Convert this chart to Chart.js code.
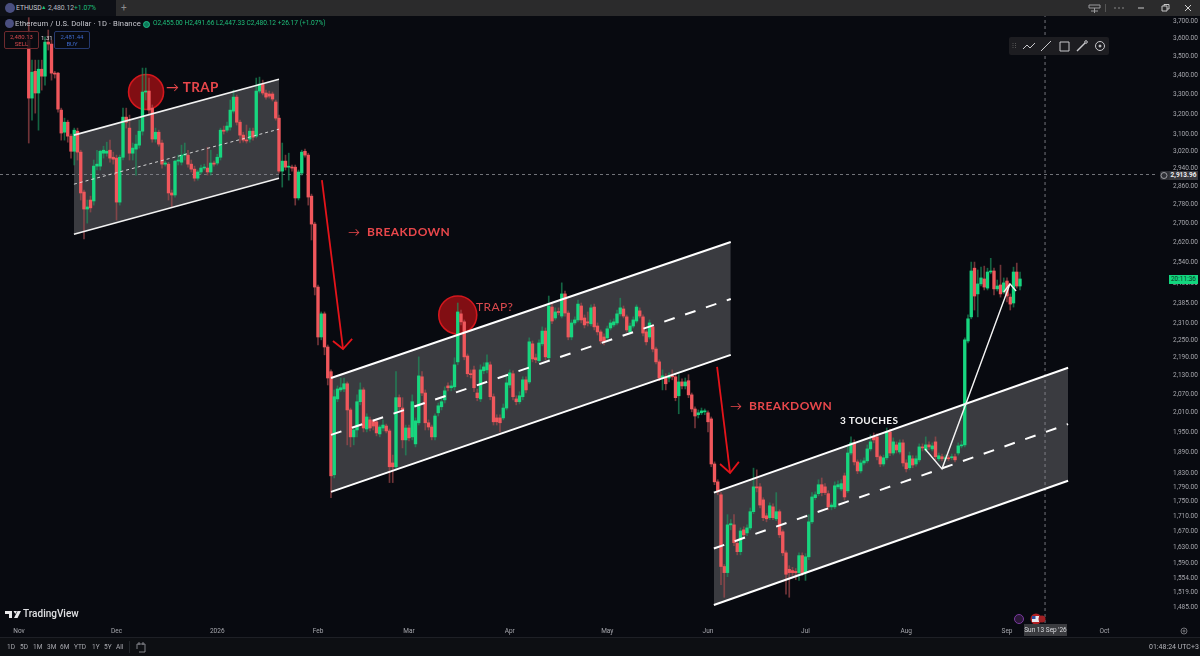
<!DOCTYPE html>
<html><head><meta charset="utf-8">
<script src="https://cdn.jsdelivr.net/npm/chart.js@4"></script>
<style>
html,body{margin:0;padding:0;background:#080a10;width:1200px;height:656px;overflow:hidden;font-family:Roboto,"Open Sans",sans-serif}
#wrap{position:relative;width:1200px;height:656px}
canvas{position:absolute;left:0;top:0}
.o{position:absolute;white-space:nowrap;pointer-events:none;line-height:1}
.note{font-family:Lato,"Open Sans",sans-serif;font-weight:700;letter-spacing:.4px}
svg{position:absolute;overflow:visible}
</style></head><body><div id="wrap"><canvas id="c" width="1200" height="656"></canvas>

<div class="o" style="left:0;top:0;width:1200px;height:16px;background:#2b2b2c"></div>
<div class="o" style="left:0;top:0;width:116px;height:16px;background:#0e1016"></div>
<div class="o" style="left:5px;top:3px;width:10px;height:10px;border-radius:50%;background:#4a4f80"></div>
<div class="o" style="left:16px;top:4.5px;font-size:6.8px;color:#c9cad0">ETHUSD</div>
<div class="o" style="left:41px;top:5px;font-size:5.5px;color:#1fbf7a">▲</div>
<div class="o" style="left:48px;top:4.5px;font-size:6.8px;color:#b9bac0">2,480.12</div>
<div class="o" style="left:74px;top:4.5px;font-size:6.8px;color:#1fbf7a">+1.07%</div>
<div class="o" style="left:121px;top:3px;font-size:10px;color:#8c8c8e">+</div>

<div class="o" style="left:5px;top:19px;width:9px;height:9px;border-radius:50%;background:#4a4f80"></div>
<div class="o" style="left:15px;top:19.5px;font-size:7.6px;color:#c8c9d0;letter-spacing:.1px">Ethereum / U.S. Dollar · 1D · Binance</div>
<div class="o" style="left:143px;top:21px;width:5px;height:5px;border-radius:50%;background:#0d7a5a;border:1px solid #1fbf8a"></div>
<div class="o" style="left:153px;top:20px;font-size:6.6px;color:#1fbf7a">O2,455.00 H2,491.66 L2,447.33 C2,480.12 +26.17 (+1.07%)</div>

<div class="o" style="left:4px;top:31px;width:33px;height:15px;border:1px solid #6d2a2e;border-radius:2px;background:rgba(8,10,16,.85);color:#d64a4e;font-size:6px;text-align:center;line-height:7px;padding-top:1px">2,480.13<br>SELL</div>
<div class="o" style="left:54px;top:31px;width:34px;height:15px;border:1px solid #25396e;border-radius:2px;background:rgba(8,10,16,.85);color:#3d68c8;font-size:6px;text-align:center;line-height:7px;padding-top:1px">2,481.44<br>BUY</div>
<div class="o" style="left:41px;top:35px;font-size:6px;color:#d8d9dd">1.31</div>

<!-- window controls -->
<svg style="left:0;top:0" width="1200" height="20" fill="none" stroke="#9a9a9c" stroke-width="1">
<path d="M1089 5h11v3h-11zM1094.500 8v5M1091 11h7"/>
<path d="M1105.500 4v8" stroke="#555"/>
<path d="M1114 8h2M1118 8h2M1122 8h2" stroke="#888"/>
<path d="M1138 8h6" stroke="#c8c8c8"/>
<path d="M1162 6h5v5h-5zM1164 6V4.500h5V9h-2" stroke="#c8c8c8"/>
<path d="M1185 5l6 6M1191 5l-6 6" stroke="#d0d0d0"/>
</svg>

<!-- drawing toolbar -->
<div class="o" style="left:1009px;top:37px;width:100px;height:18px;background:#1d1d21;border-radius:2px"></div>
<svg style="left:0;top:0" width="1200" height="60" fill="none" stroke="#c8c8cc" stroke-width="1">
<path d="M1013 43v6M1015.500 43v6" stroke="#555" stroke-dasharray="1 1"/>
<path d="M1023 49l4-4 3 3 5-5"/>
<path d="M1041 51l10-10"/>
<path d="M1060 42h9v9h-9z"/>
<path d="M1077 51l8-8" stroke-width="1.500"/><circle cx="1086" cy="42" r="1.300"/>
<circle cx="1100" cy="46" r="4.500"/><circle cx="1100" cy="46" r="1" fill="#c8c8cc"/>
</svg>

<!-- drawing notes -->
<div class="o note" style="left:166px;top:81px;font-size:13.500px;color:#e8474b"><span style="font-weight:400;font-size:13px">→</span> TRAP</div>
<div class="o note" style="left:476px;top:301px;font-size:12px;color:#dc4a4e;font-weight:400">TRAP?</div>
<div class="o note" style="left:348px;top:226px;font-size:12px;color:#e8474b"><span style="font-weight:400">→</span>&nbsp; BREAKDOWN</div>
<div class="o note" style="left:730px;top:400px;font-size:12px;color:#e8474b"><span style="font-weight:400">→</span>&nbsp; BREAKDOWN</div>
<div class="o note" style="left:840px;top:415px;font-size:10px;color:#f4f4f4">3 TOUCHES</div>

<!-- watermark -->
<svg style="left:5px;top:610px" width="20" height="10" fill="#e8e8ea"><path d="M0 1h7v7H4V4H0zM8.500 1h3.500l-1.700 3zM12.500 1h3.500l-3.500 7H9z"/></svg>
<div class="o" style="left:23px;top:609px;font-size:10px;font-weight:500;color:#dfe0e3">TradingView</div>

<!-- price labels -->
<div class="o" style="left:1169px;top:275px;width:29px;height:9px;background:#12d67e;color:#0b3a26;font-size:6.500px;text-align:center;line-height:9px">20:11:36</div>
<div class="o" style="left:1160px;top:171px;width:9px;height:9px;background:#2f3035;border-radius:2px 0 0 2px"></div>
<svg style="left:0;top:0" width="1200" height="200" fill="none" stroke="#b8b8bc" stroke-width=".8"><circle cx="1164" cy="175.500" r="3"/></svg>
<div class="o" style="left:1169px;top:171px;width:29px;height:9px;background:#37383d;color:#eeeeee;font-size:6.500px;font-weight:700;text-align:center;line-height:9px">2,913.96</div>

<!-- events + date label -->
<svg style="left:0;top:0" width="1200" height="656">
<circle cx="1019" cy="619" r="4.500" fill="#2b1838" stroke="#7a3aa0" stroke-width="1"/>
<circle cx="1036" cy="619" r="5.500" fill="#b02024"/><rect x="1032" y="616" width="7" height="6" fill="#e8e8f0"/><rect x="1032" y="616" width="3.500" height="3" fill="#3050a0"/>
<circle cx="1042" cy="619" r="3.500" fill="#a02024"/>
</svg>
<div class="o" style="left:1024px;top:624px;width:43px;height:12px;background:#3a3b3f;color:#d8d9dd;font-size:6.500px;text-align:center;line-height:12px">Sun 13 Sep '26</div>
<svg style="left:0;top:0" width="1200" height="656" fill="none" stroke="#8c8c90" stroke-width=".8"><circle cx="1184" cy="631" r="3"/><circle cx="1184" cy="631" r="1"/></svg>

<!-- bottom bar -->
<div class="o" style="left:0;top:637px;width:1200px;height:19px;background:#0d0f13;border-top:1px solid #1e2026;box-sizing:border-box"></div>
<div class="o" style="left:7px;top:644px;font-size:6.500px;color:#a9aab0">1D</div>
<div class="o" style="left:20px;top:644px;font-size:6.500px;color:#a9aab0">5D</div>
<div class="o" style="left:33px;top:644px;font-size:6.500px;color:#a9aab0">1M</div>
<div class="o" style="left:47px;top:644px;font-size:6.500px;color:#a9aab0">3M</div>
<div class="o" style="left:60px;top:644px;font-size:6.500px;color:#a9aab0">6M</div>
<div class="o" style="left:74px;top:644px;font-size:6.500px;color:#a9aab0">YTD</div>
<div class="o" style="left:92px;top:644px;font-size:6.500px;color:#a9aab0">1Y</div>
<div class="o" style="left:104px;top:644px;font-size:6.500px;color:#a9aab0">5Y</div>
<div class="o" style="left:116px;top:644px;font-size:6.500px;color:#a9aab0">All</div>
<svg style="left:0;top:0" width="1200" height="656" fill="none" stroke="#a0a0a6" stroke-width=".8"><path d="M129.500 641v12" stroke="#2a2c32"/><path d="M137 644h8v8h-6M137 644v5"/><path d="M139 642v3M143 642v3"/></svg>
<div class="o" style="left:1149px;top:644px;font-size:7px;color:#b4b5bb">01:48:24 UTC+3</div>
</div>
<script>
// Candle data. Row starts: day 3, 13, 23 ... (one value per day)
const firstDay = 3;
const opens = [
3592,3282,3422,3308,3433,3396,3581,3570,3412,3412,
3221,3112,3161,3093,3021,3117,3017,2835,2761,2800,
2796,2952,2952,3012,3012,3026,2993,2989,2791,2993,
3186,3132,3012,3031,3050,3117,3313,3318,3231,3079,
3112,3060,2961,2961,2831,2822,2975,2970,3003,3003,
2961,2938,2897,2925,2943,2943,2925,2966,2966,2993,
3122,3122,3137,3216,3287,3161,3098,3074,3079,3117,
3093,3318,3354,3308,3303,3303,3262,3181,2929,2975,
2947,2947,2947,2809,2920,3021,3003,2817,2697,2445,
2262,2345,2227,2143,1825,2054,2083,2086,2103,2019,
1936,1957,2045,2083,1960,1988,1985,1982,1945,1963,
1969,1954,1859,1848,2058,2025,1927,1963,1936,1915,
1979,2126,2073,1979,1966,1936,2010,2029,2051,2096,
2090,2093,2176,2345,2316,2196,2136,2149,2073,2054,
2146,2149,2166,2061,1994,1994,1994,2025,2099,2136,
2054,2045,2061,2116,2109,2238,2190,2180,2238,2283,
2190,2370,2330,2352,2337,2419,2348,2262,2312,2323,
2374,2330,2316,2309,2370,2301,2280,2262,2259,2294,
2305,2312,2345,2363,2334,2280,2301,2319,2356,2334,
2280,2262,2298,2220,2176,2122,2126,2122,2129,2126,
2064,2109,2096,2113,2067,2022,2004,2010,2013,2010,
1991,1856,1805,1769,1582,1567,1688,1688,1640,1619,
1675,1667,1680,1723,1791,1791,1755,1712,1707,1736,
1704,1723,1670,1616,1575,1572,1570,1567,1609,1567,
1606,1696,1761,1772,1797,1791,1772,1736,1736,1791,
1785,1822,1780,1888,1918,1862,1836,1859,1865,1900,
1936,1936,1877,1856,1874,1951,1888,1912,1891,1918,
1859,1845,1871,1856,1868,1906,1897,1912,1900,1921,
1871,1877,1871,1874,1874,1877,1888,1909,1912,2248,
2334,2518,2419,2457,2476,2441,2503,2507,2438,2453,
2426,2468,2407,2385,2503,2449
];
const closes = [
3282,3417,3308,3433,3396,3581,3570,3412,3407,3226,
3108,3161,3093,3021,3122,3017,2831,2761,2770,2766,
2952,2961,3021,3026,3021,2989,2984,2791,2993,3186,
3161,3012,3036,3055,3117,3313,3318,3221,3079,3112,
3055,2961,2966,2831,2822,2975,2980,3003,3007,2961,
2938,2897,2925,2943,2947,2925,2966,2961,2993,3122,
3117,3142,3221,3287,3161,3098,3074,3070,3117,3088,
3318,3354,3308,3287,3292,3277,3181,2929,2975,2947,
2950,2943,2809,2925,3017,3003,2813,2697,2445,2262,
2345,2227,2122,1822,2061,2086,2090,2103,2019,1936,
1957,2045,2083,1963,1997,1963,1969,1948,1966,1972,
1954,1848,1848,2058,2029,1927,1963,1933,2045,1985,
2129,2073,1979,1966,1936,2000,2032,2045,2080,2090,
2096,2166,2352,2316,2193,2136,2133,2090,2058,2149,
2159,2173,2061,1982,1982,1979,2025,2106,2139,2061,
2045,2064,2116,2083,2245,2186,2183,2241,2283,2193,
2374,2319,2352,2350,2419,2348,2262,2312,2323,2381,
2323,2305,2312,2367,2298,2280,2248,2245,2291,2312,
2316,2345,2367,2337,2287,2301,2323,2370,2337,2276,
2245,2312,2220,2176,2122,2129,2103,2126,2126,2058,
2109,2096,2109,2067,2022,2000,2010,2016,2016,1982,
1856,1805,1777,1582,1567,1688,1691,1642,1619,1672,
1662,1680,1723,1791,1788,1741,1707,1704,1739,1707,
1723,1662,1616,1563,1567,1567,1567,1609,1567,1606,
1696,1763,1769,1797,1775,1775,1736,1741,1794,1797,
1800,1763,1888,1918,1862,1836,1859,1865,1900,1921,
1927,1877,1856,1874,1951,1888,1921,1897,1918,1859,
1842,1880,1853,1871,1906,1903,1912,1906,1909,1877,
1880,1871,1874,1871,1877,1868,1909,1912,2252,2327,
2507,2411,2457,2480,2445,2503,2507,2438,2449,2419,
2461,2411,2381,2503,2449,2476
];
const highs = [
3720,3482,3482,3482,3482,3610,3649,3592,3422,3417,
3231,3181,3171,3103,3132,3132,3026,2844,2800,2817,
2980,3026,3026,3045,3064,3074,3017,3003,3003,3231,
3231,3196,3060,3098,3171,3439,3439,3386,3247,3132,
3122,3074,2975,2970,2844,2980,3003,3050,3060,3026,
2980,2952,2934,2957,2961,3040,3026,2975,3007,3132,
3142,3161,3272,3323,3298,3171,3112,3147,3132,3132,
3386,3391,3375,3323,3318,3313,3272,3196,3060,3003,
3012,2957,2957,2934,3026,3031,3012,2826,2705,2453,
2352,2352,2234,2149,2083,2096,2122,2122,2109,2025,
1963,2067,2106,2090,2007,1997,1988,1988,1972,1988,
1975,1960,1882,2143,2067,2058,1972,1972,2067,1994,
2193,2143,2083,1988,1972,2007,2041,2058,2093,2106,
2113,2190,2385,2359,2323,2203,2149,2162,2086,2166,
2173,2200,2176,2070,2004,2004,2038,2133,2149,2146,
2064,2077,2126,2126,2259,2248,2203,2252,2298,2294,
2411,2385,2367,2367,2461,2430,2356,2323,2334,2396,
2385,2341,2352,2378,2381,2312,2287,2273,2301,2323,
2327,2359,2403,2374,2341,2312,2334,2378,2367,2341,
2287,2323,2305,2227,2183,2149,2136,2139,2149,2136,
2133,2119,2122,2133,2073,2029,2019,2025,2022,2016,
1997,1862,1811,1775,1587,1715,1702,1715,1645,1680,
1683,1688,1733,1844,1839,1800,1761,1718,1747,1744,
1775,1728,1675,1621,1584,1580,1577,1616,1616,1614,
1715,1775,1777,1811,1816,1800,1780,1747,1805,1808,
1811,1830,1906,1936,1927,1868,1868,1874,1912,1942,
1948,1945,1882,1882,1963,1960,1933,1921,1927,1927,
1868,1891,1880,1880,1915,1915,1936,1921,1918,1936,
1888,1885,1882,1882,1885,1885,1918,1924,2259,2341,
2542,2542,2511,2522,2526,2518,2557,2518,2472,2530,
2480,2480,2419,2522,2538,2503
];
const lows = [
3060,3171,3206,3122,3323,3349,3537,3375,3386,3211,
3074,3074,3064,2989,2957,2980,2800,2635,2701,2748,
2778,2934,2934,2989,2998,2970,2961,2714,2778,2980,
3132,2980,2980,2911,3036,3098,3272,3196,3064,3064,
3045,2943,2952,2800,2770,2813,2957,2957,2980,2947,
2925,2884,2888,2915,2934,2911,2911,2952,2957,2980,
3103,3112,3122,3206,3147,3060,3064,3060,3064,3074,
3084,3308,3298,3277,3282,3267,3171,2920,2857,2934,
2888,2929,2778,2800,2911,2993,2778,2631,2415,2234,
2252,2200,2099,1761,1816,2045,2077,2077,1912,1906,
1912,1936,2035,1951,1951,1954,1957,1939,1936,1954,
1948,1803,1803,1839,2019,1903,1882,1924,1927,1906,
1972,2064,1957,1957,1927,1927,2000,2019,2041,2080,
2080,2083,2166,2305,2183,2126,2122,2077,2048,2045,
2136,2139,2051,1972,1972,1951,1988,2019,2090,2051,
2035,2038,2051,2073,2103,2176,2173,2173,2231,2183,
2180,2309,2323,2341,2330,2337,2252,2252,2305,2316,
2312,2294,2301,2301,2287,2269,2238,2234,2252,2287,
2298,2305,2337,2330,2280,2273,2294,2312,2330,2266,
2234,2255,2210,2169,2113,2083,2083,2109,2116,2048,
2007,2086,2086,2058,2013,1963,1994,2004,2004,1951,
1848,1797,1769,1538,1508,1557,1675,1634,1611,1611,
1655,1660,1675,1718,1777,1733,1699,1696,1702,1702,
1699,1655,1609,1515,1508,1560,1550,1548,1560,1548,
1599,1691,1755,1766,1766,1769,1728,1728,1731,1785,
1780,1755,1775,1882,1853,1828,1830,1853,1859,1894,
1918,1868,1848,1850,1868,1880,1882,1888,1885,1850,
1833,1839,1845,1850,1862,1894,1891,1897,1894,1868,
1865,1865,1865,1865,1868,1862,1882,1903,1906,2241,
2327,2359,2334,2449,2434,2434,2496,2415,2430,2407,
2419,2389,2359,2370,2441,2434
];

// Month labels on the time axis
const monthDays = [0,30,61,92,120,151,181,212,242,273,304,334];
const monthNames = ['Nov','Dec','2026','Feb','Mar','Apr','May','Jun','Jul','Aug','Sep','Oct'];
// Price axis labels
const priceTicks = [3700,3600,3500,3400,3300,3200,3100,3020,2940,2860,2780,2700,2620,2540,2460,2385,2310,2250,2190,2130,2070,2010,1950,1890,1830,1790,1750,1710,1670,1630,1590,1554,1519,1485];

// Drawn channels: [day, price] end points
const channel1Upper = [[16.9,3098],[80,3380]];
const channel1Mid   = [[16.9,2870],[80,3127]];
const channel1Lower = [[16.9,2655],[80,2897]];
const channel2Upper = [[96,2122],[219,2623]];
const channel2Mid   = [[96,1942],[219,2400]];
const channel2Lower = [[96,1777],[219,2200]];
const channel3Upper = [[213.8,1775],[322.8,2156]];
const channel3Mid   = [[213.8,1627],[322.8,1975]];
const channel3Lower = [[213.8,1490],[322.8,1808]];
// Drawn arrows
const arrow1 = [[93.2,2888],[99.7,2220]];
const arrow1Head = [[96.6,2248],[99.7,2220],[102.5,2255]];
const arrow2 = [[214.8,2159],[218.8,1830]];
const arrow2Head = [[215.7,1856],[218.8,1830],[221.5,1862]];
const zigzag = [[278.8,1900],[284,1842],[304.9,2457]];
const zigzagHead = [[303,2426],[304.9,2457],[306.8,2430]];
const trapCircles = [[39.1,3313],[135,2341]];
// Crosshair
const crossPrice = 2913.96;
const crossDay = 315.7;

const days = opens.map((_, i) => firstDay + i);
const up = opens.map((o, i) => closes[i] >= o);
const GREEN = '#17d67f', RED = '#f0575c';
const pts = a => a.map(p => ({x: p[0], y: p[1]}));
const line = (a, color, width, order, extra) => Object.assign({
  type: 'line', data: pts(a), borderColor: color, borderWidth: width,
  pointRadius: 0, fill: false, tension: 0, order
}, extra || {});

const xMin = -19 / 3.25, xMax = (1157 - 19) / 3.25;
const yMax = 3729.7, yMin = 1448.7;

new Chart(document.getElementById('c'), {
  type: 'bar',
  data: { datasets: [
    // channel fills (far back)
    line(channel1Upper, 'rgba(0,0,0,0)', 0, 40, {fill: '+1', backgroundColor: '#3a3b40'}),
    line(channel1Lower, 'rgba(0,0,0,0)', 0, 41),
    line(channel2Upper, 'rgba(0,0,0,0)', 0, 40, {fill: '+1', backgroundColor: '#3a3b40'}),
    line(channel2Lower, 'rgba(0,0,0,0)', 0, 41),
    line(channel3Upper, 'rgba(0,0,0,0)', 0, 40, {fill: '+1', backgroundColor: '#3a3b40'}),
    line(channel3Lower, 'rgba(0,0,0,0)', 0, 41),
    // crosshair
    line([[xMin, crossPrice],[xMax, crossPrice]], '#8d8e94', 0.8, 35, {borderDash: [3,3]}),
    line([[crossDay, yMin],[crossDay, yMax]], '#8d8e94', 0.8, 35, {borderDash: [3,3]}),
    // trap circles
    {type: 'line', data: pts(trapCircles), showLine: false, pointRadius: [17.5,19], pointHoverRadius: 0,
     pointBackgroundColor: 'rgba(150,15,20,.85)', pointBorderColor: '#d3171d', pointBorderWidth: 1.6, order: 30},
    // candles
    {label: 'wick', data: days.map((d, i) => ({x: d, y: [lows[i], highs[i]]})), barThickness: 1,
     backgroundColor: up.map(u => u ? 'rgba(28,150,95,.65)' : 'rgba(170,75,78,.65)'), grouped: false, order: 20},
    {label: 'body', data: days.map((d, i) => ({x: d, y: [opens[i], closes[i]]})), barThickness: 2.7, minBarLength: 1,
     backgroundColor: up.map(u => u ? GREEN : RED), grouped: false, order: 10},
    // channel outlines
    line(channel1Upper, '#f2f2f2', 1.6, 3),
    line(channel1Lower, '#f2f2f2', 1.6, 3),
    line(channel1Mid, '#e4e4e4', 0.9, 3, {borderDash: [3,3]}),
    line(channel2Upper, '#ffffff', 2, 3),
    line(channel2Lower, '#ffffff', 2, 3),
    line(channel2Mid, '#ffffff', 2, 3, {borderDash: [11,11]}),
    line(channel3Upper, '#ffffff', 2, 3),
    line(channel3Lower, '#ffffff', 2, 3),
    line(channel3Mid, '#ffffff', 2, 3, {borderDash: [11,11]}),
    // arrows
    line(arrow1, '#e5141a', 1.8, 2),
    line(arrow1Head, '#e5141a', 1.8, 2),
    line(arrow2, '#e5141a', 1.8, 2),
    line(arrow2Head, '#e5141a', 1.8, 2),
    line(zigzag, '#f4f4f4', 1.4, 2),
    line(zigzagHead, '#f4f4f4', 1.4, 2)
  ]},
  options: {
    responsive: false, animation: false, events: [],
    layout: {autoPadding: false, padding: {top: 16, left: 0, right: 0, bottom: 0}},
    plugins: {legend: {display: false}, tooltip: {enabled: false}},
    scales: {
      x: {
        type: 'linear', min: xMin, max: xMax, offset: false,
        grid: {display: false, drawTicks: false}, border: {display: false},
        afterFit(s) { s.height = 33; s.paddingLeft = 0; s.paddingRight = 0; },
        afterBuildTicks(s) { s.ticks = monthDays.map(v => ({value: v})); },
        ticks: {autoSkip: false, maxRotation: 0, padding: 4.5, color: '#a6a7ad',
          font: {family: 'Roboto', size: 6.5},
          callback: v => monthNames[monthDays.indexOf(v)]}
      },
      y: {
        type: 'logarithmic', position: 'right', min: yMin, max: yMax,
        grid: {display: false, drawTicks: false}, border: {display: false},
        afterFit(s) { s.width = 43; s.paddingTop = 0; s.paddingBottom = 0; },
        afterBuildTicks(s) { s.ticks = priceTicks.map(v => ({value: v})); },
        ticks: {autoSkip: false, padding: 16, color: '#a6a7ad',
          font: {family: 'Roboto', size: 6.5},
          callback: v => Number(v).toLocaleString('en-US', {minimumFractionDigits: 2, maximumFractionDigits: 2})}
      }
    }
  }
});
</script></body></html>
